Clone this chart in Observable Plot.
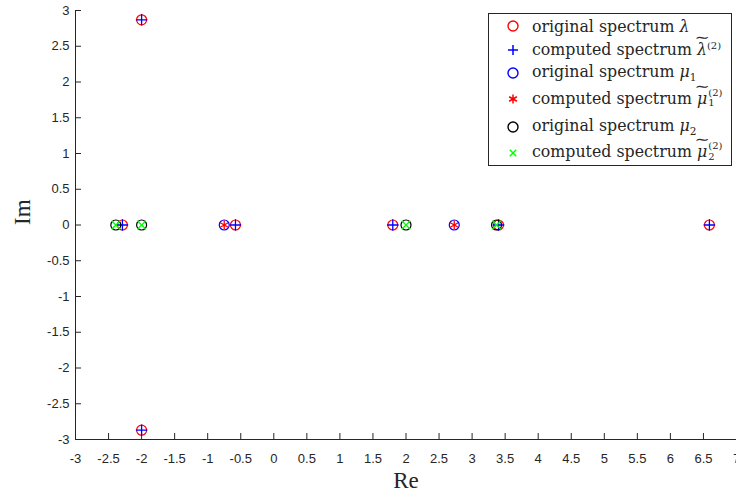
<!DOCTYPE html>
<html>
<head>
<meta charset="utf-8">
<script src="https://cdn.jsdelivr.net/npm/d3@7"></script>
<script src="https://cdn.jsdelivr.net/npm/@observablehq/plot@0.6"></script>
<style>
  body { margin: 0; background: #fff; }
  #wrap { position: relative; width: 736px; height: 496px; overflow: hidden; }
  #legend {
    position: absolute; left: 488px; top: 13px; width: 244px; height: 153px;
    border: 1px solid #262626; background: #fff; box-sizing: border-box;
    font-family: "DejaVu Serif", serif; font-size: 15.8px; color: #262626;
  }
  .row { display: flex; align-items: center; white-space: nowrap; }
  .row svg { margin-left: 17px; margin-right: 12px; flex: none; }
  .tl { position: relative; display: inline-block; }
  .tl .t { position: absolute; left: -2px; right: -2px; top: -8px; line-height: 10px; text-align: center; font-size: 14px; transform: scaleX(1.3); }
  .ss { display: inline-flex; flex-direction: column; vertical-align: middle; font-size: 10px; line-height: 10.5px; margin-left: 1px; position: relative; top: -1px; }
  i { font-style: italic; }
  sub { font-size: 10.5px; }
  sup { font-size: 10px; }
</style>
</head>
<body>
<div id="wrap"></div>
<script>
// ---- data ----
const lambdaRe  = [-2, -2, -2.29, -0.58, 1.80, 3.40, 6.59];
const lambdaIm  = [2.87, -2.87, 0, 0, 0, 0, 0];
const lambdaTRe = [-2, -2, -2.29, -0.58, 1.80, 3.40, 6.59];
const lambdaTIm = [2.87, -2.87, 0, 0, 0, 0, 0];
const mu1Re  = [-0.75, 2.73];
const mu1Im  = [0, 0];
const mu1TRe = [-0.75, 2.73];
const mu1TIm = [0, 0];
const mu2Re  = [-2.39, -2.0, 2.0, 3.37];
const mu2Im  = [0, 0, 0, 0];
const mu2TRe = [-2.39, -2.0, 2.0, 3.37];
const mu2TIm = [0, 0, 0, 0];
const xTicks = d3.range(-3, 7.001, 0.5);
const yTicks = d3.range(-3, 3.001, 0.5);
const fmt = d => String(+d.toFixed(1));

const pts = (re, im) => re.map((r, i) => ({re: r, im: im[i]}));

const axisColor = "#262626";
const chart = Plot.plot({
  width: 736, height: 496,
  marginLeft: 75, marginRight: 0, marginTop: 10, marginBottom: 57,
  x: {domain: [-3, 7]},
  y: {domain: [-3, 3]},
  style: {fontFamily: "Liberation Sans, Arial, sans-serif", fontSize: "13px", color: axisColor, background: "#fff"},
  marks: [
    Plot.axisX({ticks: xTicks, tickFormat: fmt, tickSize: -6, tickPadding: 20, label: null, stroke: axisColor, fill: axisColor}),
    Plot.axisY({ticks: yTicks, tickFormat: fmt, tickSize: -6, tickPadding: 12, label: null, stroke: axisColor, fill: axisColor}),
    Plot.ruleX([-3], {stroke: axisColor, strokeWidth: 1}),
    Plot.ruleY([-3], {stroke: axisColor, strokeWidth: 1}),
    Plot.dot(pts(lambdaRe, lambdaIm), {x: "re", y: "im", r: 5, stroke: "#ff0000", strokeWidth: 1.2}),
    Plot.dot(pts(lambdaTRe, lambdaTIm), {x: "re", y: "im", r: 3.8, symbol: "plus", stroke: "#0000ff", strokeWidth: 1.3}),
    Plot.dot(pts(mu1Re, mu1Im), {x: "re", y: "im", r: 5, stroke: "#0000ff", strokeWidth: 1.2}),
    Plot.dot(pts(mu1TRe, mu1TIm), {x: "re", y: "im", r: 4.3, symbol: "asterisk", stroke: "#ff0000", strokeWidth: 1.3}),
    Plot.dot(pts(mu2Re, mu2Im), {x: "re", y: "im", r: 5, stroke: "#000000", strokeWidth: 1.2}),
    Plot.dot(pts(mu2TRe, mu2TIm), {x: "re", y: "im", r: 4, symbol: "times", stroke: "#00ff00", strokeWidth: 1.3}),
    Plot.text(["Re"], {frameAnchor: "bottom", dy: 48, fontFamily: "Liberation Serif, serif", fontSize: 23, fill: axisColor}),
    Plot.text(["Im"], {frameAnchor: "left", dx: -53, rotate: -90, fontFamily: "Liberation Serif, serif", fontSize: 23, fill: axisColor})
  ]
});
const wrap = document.getElementById("wrap");
wrap.appendChild(chart);

// ---- legend ----
const sym = {
  circle: c => `<circle cx="7" cy="7" r="5" fill="none" stroke="${c}" stroke-width="1.4"/>`,
  plus: c => `<path d="M7 2V12M2 7H12" stroke="${c}" stroke-width="1.5"/>`,
  asterisk: c => `<path d="M7 2.5V11.5M3.1 4.75L10.9 9.25M3.1 9.25L10.9 4.75" stroke="${c}" stroke-width="1.5"/>`,
  times: c => `<path d="M3.8 3.8L10.2 10.2M3.8 10.2L10.2 3.8" stroke="${c}" stroke-width="1.5"/>`
};
const tilde = (base) => `<span class="tl"><i>${base}</i><span class="t">∼</span></span>`;
const ss = (sup, sub) => `<span class="ss"><span>${sup}</span><span>${sub}</span></span>`;
const rowHeights = [24, 23, 23, 30, 25, 27];
const entries = [
  {s: "circle", c: "#ff0000", html: `original spectrum <i>λ</i>`},
  {s: "plus", c: "#0000ff", html: `computed spectrum ${tilde("λ")}<sup>(2)</sup>`},
  {s: "circle", c: "#0000ff", html: `original spectrum <i>μ</i><sub>1</sub>`},
  {s: "asterisk", c: "#ff0000", html: `computed spectrum ${tilde("μ")}${ss("(2)", "1")}`},
  {s: "circle", c: "#000000", html: `original spectrum <i>μ</i><sub>2</sub>`},
  {s: "times", c: "#00ff00", html: `computed spectrum ${tilde("μ")}${ss("(2)", "2")}`}
];
const leg = document.createElement("div");
leg.id = "legend";
leg.innerHTML = entries.map((e, i) =>
  `<div class="row" style="height:${rowHeights[i]}px"><svg width="14" height="14">${sym[e.s](e.c)}</svg><span>${e.html}</span></div>`
).join("");
wrap.appendChild(leg);
</script>
</body>
</html>
